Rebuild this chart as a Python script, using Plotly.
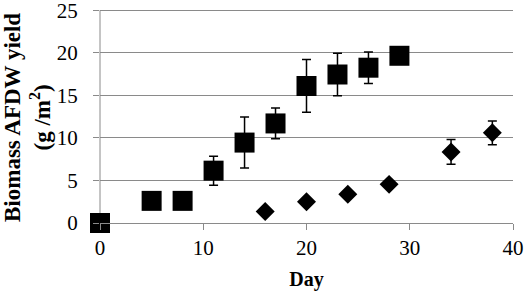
import plotly.graph_objects as go

# Square series
sq_day = [0, 5, 8, 11, 14, 17, 20, 23, 26, 29]
sq_yield = [0.0, 2.6, 2.6, 6.15, 9.45, 11.7, 16.1, 17.45, 18.25, 19.65]
sq_err = [0, 0.3, 0, 1.7, 3.0, 1.8, 3.1, 2.5, 1.85, 0]

# Diamond series
dm_day = [16, 20, 24, 28, 34, 38]
dm_yield = [1.35, 2.5, 3.37, 4.54, 8.35, 10.6]
dm_err = [0, 0, 0, 0, 1.45, 1.4]

x_ticks = [0, 10, 20, 30, 40]
y_ticks = [0, 5, 10, 15, 20, 25]
y_max = 25.5

GRID = "#8a8a8a"
FONT = "Liberation Serif, Times New Roman, serif"

fig = go.Figure()
fig.add_trace(go.Scatter(
    x=sq_day, y=sq_yield, mode="markers",
    marker=dict(symbol="square", size=20, color="black"),
    error_y=dict(type="data", array=sq_err, visible=True, color="black",
                 thickness=1.5, width=4.5),
    cliponaxis=False, showlegend=False,
))
fig.add_trace(go.Scatter(
    x=dm_day, y=dm_yield, mode="markers",
    marker=dict(symbol="diamond", size=14.6, color="black"),
    error_y=dict(type="data", array=dm_err, visible=True, color="black",
                 thickness=1.5, width=4.5),
    cliponaxis=False, showlegend=False,
))

# y-axis line only up to the top tick
fig.add_shape(type="line", xref="paper", x0=0, x1=0, yref="y",
              y0=y_ticks[0], y1=y_ticks[-1], line=dict(color=GRID, width=1), layer="below")

fig.update_layout(
    width=526, height=293,
    margin=dict(l=100, r=13, t=6, b=70, autoexpand=False),
    paper_bgcolor="white", plot_bgcolor="white",
    font=dict(family=FONT, size=21, color="black"),
    xaxis=dict(
        range=[0, 40], tickmode="array", tickvals=x_ticks, ticktext=[str(v) for v in x_ticks],
        showgrid=False, zeroline=False, automargin=False, ticklabeloverflow="allow",
        showline=True, linecolor=GRID, linewidth=1,
        ticks="outside", ticklen=6, tickcolor=GRID,
        tickfont=dict(family=FONT, size=21, color="black"),
        title=dict(text="<b>Day</b>", font=dict(family=FONT, size=20, color="black"), standoff=12),
    ),
    yaxis=dict(
        range=[0, y_max], tickmode="array", tickvals=y_ticks, ticktext=[str(v) for v in y_ticks],
        showgrid=True, gridcolor=GRID, gridwidth=1, automargin=False, ticklabeloverflow="allow",
        zeroline=False, showline=False,
        ticks="outside", ticklen=6, tickcolor=GRID,
        tickfont=dict(family=FONT, size=21, color="black"),
        ticklabelstandoff=11,
    ),
    annotations=[dict(
        text="<b>Biomass AFDW yield<br>(g /m<sup>2</sup>)</b>",
        textangle=-90, xref="paper", yref="paper",
        x=(27 - 100) / 413, y=(223 - 118) / (223 - 6),
        xanchor="center", yanchor="middle",
        showarrow=False, font=dict(family=FONT, size=23, color="black"),
    )],
)

fig.write_html("out.html", config={"displayModeBar": False},
               post_script="document.body.style.margin='0';")
